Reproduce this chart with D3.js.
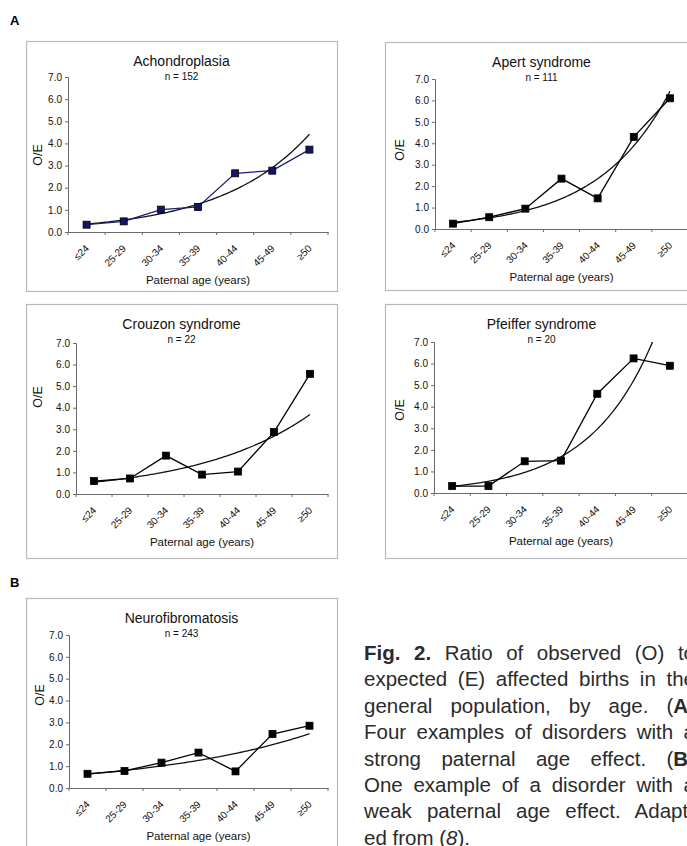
<!DOCTYPE html>
<html>
<head>
<meta charset="utf-8">
<script src="https://cdn.jsdelivr.net/npm/d3@7"></script>
<style>
  html, body { margin: 0; padding: 0; background: #fff; overflow: hidden; }
  #wrap { position: relative; width: 687px; height: 846px; overflow: hidden; }
  svg { position: absolute; left: 0; top: 0; }
  .cap-line {
    position: absolute; left: 364px; width: 331px;
    font-family: "Liberation Sans", Arial, sans-serif; font-size: 20.5px;
    line-height: 20px; color: #2b2b2b;
    text-align: justify; text-align-last: justify;
  }
  .cap-line.last { text-align: left; text-align-last: left; }
</style>
</head>
<body>
<div id="wrap"><svg id="fig" width="687" height="846"></svg></div>
<script>
// age groups on the x axis
const ageGroups = ["≤24", "25-29", "30-34", "35-39", "40-44", "45-49", "≥50"];
const yTicks = [0, 1, 2, 3, 4, 5, 6, 7];

// O/E ratios
const achondroplasia = [0.33, 0.48, 1.01, 1.13, 2.65, 2.77, 3.72];
const apert = [0.25, 0.55, 0.95, 2.35, 1.43, 4.30, 6.10];
const crouzon = [0.60, 0.72, 1.78, 0.90, 1.04, 2.87, 5.57];
const pfeiffer = [0.32, 0.32, 1.47, 1.50, 4.60, 6.24, 5.90];
const neurofibromatosis = [0.65, 0.78, 1.16, 1.62, 0.76, 2.47, 2.85];

const titles = ["Achondroplasia", "Apert syndrome", "Crouzon syndrome", "Pfeiffer syndrome", "Neurofibromatosis"];
const counts = [152, 111, 22, 20, 243];

const svg = d3.select("#fig");
const font = "'Liberation Sans', Arial, sans-serif";

// layout of each little chart (box = frame, plot = axis extents)
const panels = [
  {values: achondroplasia, box: [26, 41, 311, 250], plot: [68, 328, 232, 77], yLab: [38, 155], line: "#1e1e70", mark: "#141466"},
  {values: apert, box: [385, 42, 313, 248], plot: [435, 688, 229, 79], yLab: [400, 150], line: "#000", mark: "#000"},
  {values: crouzon, box: [26, 304, 311, 254], plot: [76, 328, 494, 343], yLab: [38, 397], line: "#000", mark: "#000"},
  {values: pfeiffer, box: [385, 304, 313, 254], plot: [434, 688, 493, 342], yLab: [400, 410], line: "#000", mark: "#000"},
  {values: neurofibromatosis, box: [26, 598, 311, 260], plot: [69, 328, 788, 635], yLab: [40, 695], line: "#000", mark: "#000"}
];

// exponential trend line, least squares on ln(y) (like a spreadsheet trendline)
function expFit(vals) {
  const xs = vals.map((d, i) => i);
  const ls = vals.map(d => Math.log(d));
  const mx = d3.mean(xs), ml = d3.mean(ls);
  const b = d3.sum(xs, (x, i) => (x - mx) * (ls[i] - ml)) / d3.sum(xs, x => (x - mx) * (x - mx));
  const a = Math.exp(ml - b * mx);
  return t => a * Math.exp(b * t);
}

panels.forEach(function(p, k) {
  const [bx, by, bw, bh] = p.box;
  const [x0, x1, y0, y1] = p.plot;

  const g = svg.append("g");

  // frame
  g.append("rect")
    .attr("x", bx + 0.5).attr("y", by + 0.5)
    .attr("width", bw).attr("height", bh)
    .attr("fill", "#fff")
    .attr("stroke", "#b8b8b8")
    .attr("stroke-width", 1.2);

  const x = d3.scaleBand().domain(ageGroups).range([x0, x1]).padding(0);
  const xc = d => x(d) + x.bandwidth() / 2;
  const y = d3.scaleLinear().domain([0, 7]).range([y0, y1]);

  // y axis
  const yAxis = g.append("g")
    .attr("transform", `translate(${x0},0)`)
    .call(d3.axisLeft(y).tickValues(yTicks).tickFormat(d3.format(".1f")).tickSize(3).tickPadding(3));
  yAxis.select(".domain").attr("stroke", "#6a6a6a");
  yAxis.selectAll(".tick line").attr("stroke", "#6a6a6a");
  yAxis.selectAll("text").attr("fill", "#111").style("font-family", font).style("font-size", "10px");

  // x axis, labels at band centres, ticks at band edges
  const xAxis = g.append("g")
    .attr("transform", `translate(0,${y0})`)
    .call(d3.axisBottom(x).tickSize(0).tickSizeOuter(0));
  xAxis.select(".domain").attr("stroke", "#6a6a6a");
  xAxis.selectAll("text")
    .attr("x", 0).attr("y", 0).attr("dy", 0)
    .attr("transform", "translate(3,17) rotate(-45)")
    .style("text-anchor", "end")
    .attr("fill", "#111")
    .style("font-family", font).style("font-size", "10px");
  xAxis.selectAll(".edge")
    .data(d3.range(ageGroups.length + 1))
    .enter().append("line")
    .attr("x1", i => x0 + i * x.step()).attr("x2", i => x0 + i * x.step())
    .attr("y1", 0).attr("y2", 3)
    .attr("stroke", "#6a6a6a");

  // titles
  g.append("text")
    .attr("x", bx + bw / 2).attr("y", by + 25)
    .attr("text-anchor", "middle")
    .style("font-family", font).style("font-size", "14px").attr("fill", "#111")
    .text(titles[k]);
  g.append("text")
    .attr("x", bx + bw / 2).attr("y", by + 39)
    .attr("text-anchor", "middle")
    .style("font-family", font).style("font-size", "10px").attr("fill", "#111")
    .text("n = " + counts[k]);

  g.append("text")
    .attr("transform", `translate(${p.yLab[0]},${p.yLab[1]}) rotate(-90)`)
    .attr("text-anchor", "middle")
    .attr("dy", "0.35em")
    .style("font-family", font).style("font-size", "12.5px").attr("fill", "#111")
    .text("O/E");

  g.append("text")
    .attr("x", (x0 + x1) / 2).attr("y", y0 + 52)
    .attr("text-anchor", "middle")
    .style("font-family", font).style("font-size", "11.5px").attr("fill", "#111")
    .text("Paternal age (years)");

  // clip for the trend line
  const clipId = "clip" + k;
  g.append("clipPath").attr("id", clipId)
    .append("rect")
    .attr("x", x0).attr("y", y1)
    .attr("width", x1 - x0).attr("height", y0 - y1);

  const fit = expFit(p.values);
  const ts = d3.range(0, 6.001, 0.05);
  g.append("path")
    .datum(ts)
    .attr("clip-path", `url(#${clipId})`)
    .attr("fill", "none")
    .attr("stroke", "#111")
    .attr("stroke-width", 1.3)
    .attr("d", d3.line()
      .x(t => x0 + (t + 0.5) * x.step())
      .y(t => y(fit(t))));

  // observed series
  const pts = ageGroups.map((a, i) => ({age: a, v: p.values[i]}));
  g.append("path")
    .datum(pts)
    .attr("fill", "none")
    .attr("stroke", p.line)
    .attr("stroke-width", 1.3)
    .attr("d", d3.line().x(d => xc(d.age)).y(d => y(d.v)));

  g.selectAll(".pt")
    .data(pts)
    .enter().append("rect")
    .attr("x", d => xc(d.age) - 3.5)
    .attr("y", d => y(d.v) - 3.5)
    .attr("width", 7).attr("height", 7)
    .attr("fill", p.mark)
    .attr("stroke", "#000")
    .attr("stroke-width", 0.8);
});

// panel letters
svg.append("text").attr("x", 10).attr("y", 25)
  .style("font-family", font).style("font-size", "13px").style("font-weight", "bold")
  .text("A");
svg.append("text").attr("x", 10).attr("y", 587)
  .style("font-family", font).style("font-size", "13px").style("font-weight", "bold")
  .text("B");

// caption (the column runs past the right edge of the page, as in the source)
const captionLines = [
  "<b>Fig. 2.</b> Ratio of observed (O) to",
  "expected (E) affected births in the",
  "general population, by age. (<b>A</b>)",
  "Four examples of disorders with a",
  "strong paternal age effect. (<b>B</b>)",
  "One example of a disorder with a",
  "weak paternal age effect. Adapt-",
  "ed from (<i>8</i>)."
];
d3.select("#wrap").selectAll(".cap-line")
  .data(captionLines)
  .enter().append("div")
  .attr("class", (d, i) => i === captionLines.length - 1 ? "cap-line last" : "cap-line")
  .style("top", (d, i) => (643 + i * 26.4) + "px")
  .html(d => d);
</script>
</body>
</html>
